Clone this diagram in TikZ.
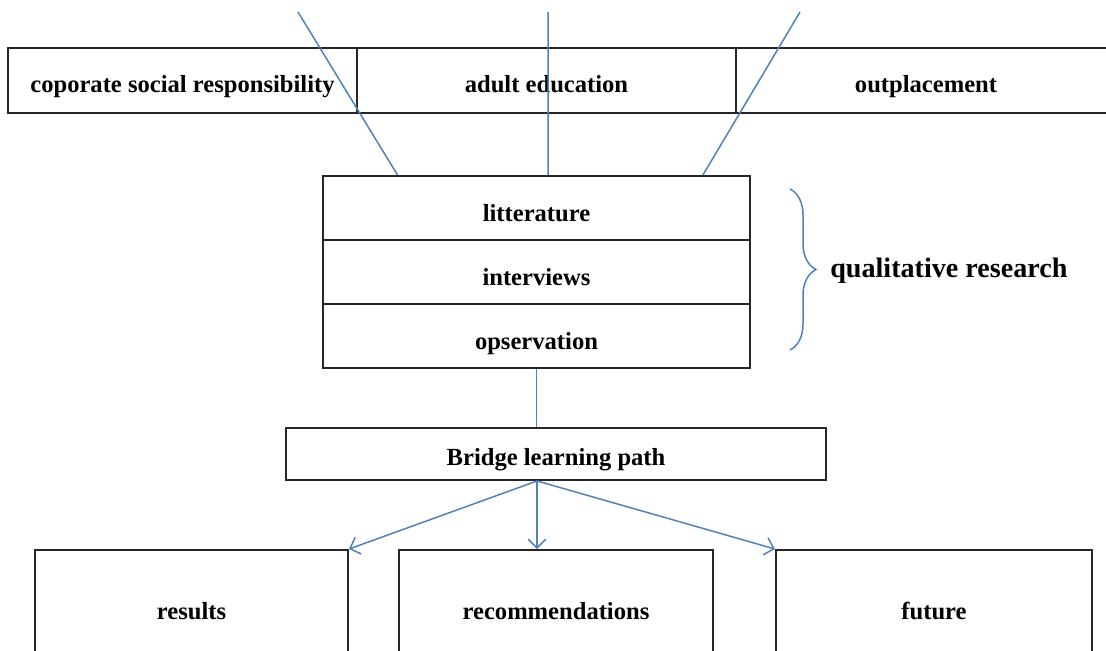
\documentclass[tikz,border=0pt]{standalone}
\usepackage{fontspec}
\setmainfont{Liberation Serif}
\usepackage{tikz}
\usetikzlibrary{arrows.meta,calc,decorations.pathreplacing}
\definecolor{linkblue}{RGB}{79,129,189}

\begin{document}
\begin{tikzpicture}
    [   x=0.02cm, y=-0.02cm
    ,   box/.style=
        {   draw=black!85
        ,   line width=1.1pt
        ,   rectangle
        ,   inner sep=0pt
        ,   text height=0.52cm
        ,   text depth=0pt
        ,   font=\fontsize{14}{16}\selectfont\bfseries
        }
    ,   link/.style=
        {   draw=linkblue
        ,   line width=0.85pt
        }
    ,   >={Straight Barb[length=5pt,width=10pt]}
    ]
    \useasboundingbox (0,0) rectangle (1106,650);
    % topics
    \node[box, text height=0.46cm, minimum width=6.98cm, minimum height=1.3cm] (csr) at (182.5,80.5) {coporate social responsibility};
    \node[box, text height=0.46cm, minimum width=7.58cm, minimum height=1.3cm] (adult) at (546.5,80.5) {adult education};
    \node[box, text height=0.46cm, minimum width=7.6cm, minimum height=1.3cm] (outpl) at (926,80.5) {outplacement};
    % methods
    \node[box, minimum width=8.54cm, minimum height=1.28cm] (lit) at (536.5,208) {litterature};
    \node[box, minimum width=8.54cm, minimum height=1.28cm] (intv) at (536.5,272) {interviews};
    \node[box, minimum width=8.54cm, minimum height=1.28cm] (obs) at (536.5,336) {opservation};
    % path and outcomes
    \node[box, text height=0.44cm, minimum width=10.8cm, minimum height=1.04cm] (bridge) at (556,454) {Bridge learning path};
    \node[box, minimum width=6.26cm, minimum height=2.24cm] (res) at (191.5,606) {results};
    \node[box, minimum width=6.28cm, minimum height=2.24cm] (recom) at (556,606) {recommendations};
    \node[box, minimum width=6.32cm, minimum height=2.24cm] (fut) at (934,606) {future};
    % blue connectors from above
    \coordinate (in1) at (298,12);
    \coordinate (in2) at (548,12);
    \coordinate (in3) at (800,12);
    \foreach\i/\f in {1/0.176,2/0.527,3/0.888}
    {   \draw[link] (in\i) -- ($(lit.north west)!\f!(lit.north east)$);
    }
    \draw[link] (obs.south) -- (obs.south |- bridge.north);
    \coordinate (out) at ($(bridge.south west)!0.465!(bridge.south east)$);
    \draw[link,->] (out) -- (res.north east);
    \draw[link,->] (out) -- (out |- recom.north);
    \draw[link,->] (out) -- (fut.north west);
    % brace
    \draw[link, decorate, decoration={brace, amplitude=0.52cm, aspect=0.5}]
        (790,189) -- (790,350);
    \node[anchor=base west, font=\fontsize{16}{18}\selectfont\bfseries, inner sep=0pt] (qual) at (830,277) {qualitative research};
\end{tikzpicture}
\end{document}
